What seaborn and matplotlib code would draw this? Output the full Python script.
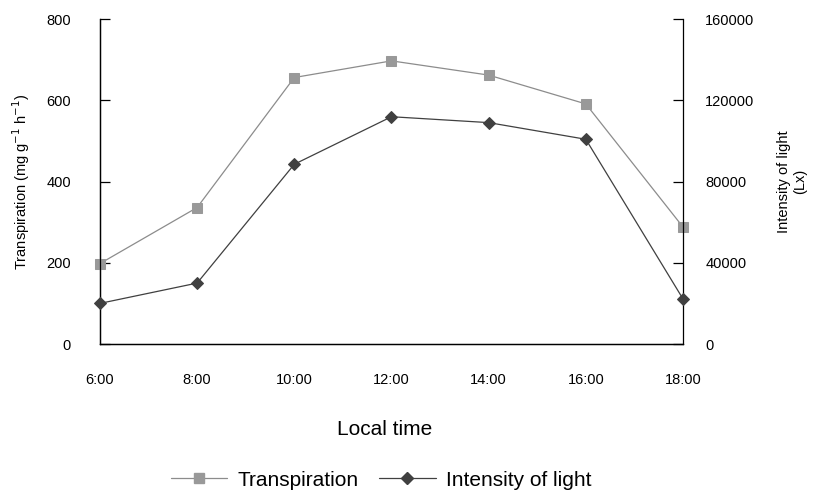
import matplotlib
matplotlib.use('Agg')
import matplotlib.pyplot as plt
import seaborn as sns
import pandas as pd
from matplotlib.lines import Line2D

# values
hours = [6, 8, 10, 12, 14, 16, 18]
time_labels = ['6:00', '8:00', '10:00', '12:00', '14:00', '16:00', '18:00']
transpiration = [198, 336, 656, 697, 662, 591, 288]
light = [20000, 30000, 88500, 111900, 109000, 100800, 22200]

df = pd.DataFrame({'hour': hours, 'transpiration': transpiration, 'light': light})

sns.set_theme(style='white')
plt.rcParams['font.family'] = ['Liberation Sans', 'DejaVu Sans']
plt.rcParams['text.color'] = 'black'
plt.rcParams['axes.labelcolor'] = 'black'
plt.rcParams['xtick.color'] = 'black'
plt.rcParams['ytick.color'] = 'black'

c_tr = '#999999'
c_li = '#404040'

fig, ax = plt.subplots(figsize=(8.16, 4.94), dpi=100)
fig.subplots_adjust(left=0.1225, right=0.837, top=0.9615, bottom=0.3036)

sns.lineplot(data=df, x='hour', y='transpiration', ax=ax, color='#8c8c8c', lw=0.9,
             marker='s', markersize=7, markerfacecolor=c_tr, markeredgecolor=c_tr,
             clip_on=False, zorder=5)
ax2 = ax.twinx()
sns.lineplot(data=df, x='hour', y='light', ax=ax2, color=c_li, lw=0.9,
             marker='D', markersize=6, markerfacecolor=c_li, markeredgecolor=c_li,
             clip_on=False, zorder=5)

ax.set_xlim(6, 18)
ax.set_ylim(0, 800)
ax2.set_ylim(0, 160000)
ax.set_xticks(hours)
ax.set_xticklabels(time_labels)
ax.set_yticks([0, 200, 400, 600, 800])
ax2.set_yticks([0, 40000, 80000, 120000, 160000])

for a in (ax, ax2):
    a.spines['top'].set_visible(False)
    for s in a.spines.values():
        s.set_color('black')
        s.set_linewidth(0.9)
    a.grid(False)
ax.spines['right'].set_visible(False)

ax.tick_params(axis='both', direction='in', length=7, width=0.9, color='black',
               labelsize=10.5, pad=21)
ax.tick_params(axis='y', pad=21)
ax2.tick_params(axis='y', direction='in', length=7, width=0.9, color='black',
                labelsize=10.5, pad=16, right=True)

ax.set_xlabel('Local time', fontsize=15, va='center')
ax.xaxis.set_label_coords(0.489, -0.262)
ax.set_ylabel('Transpiration (mg g$^{-1}$ h$^{-1}$)', fontsize=10.5, labelpad=10)
ax2.set_ylabel('Intensity of light\n(Lx)', fontsize=10.5, labelpad=16)

handles = [
    Line2D([], [], color='#8c8c8c', lw=0.9, marker='s', markersize=7,
           markerfacecolor=c_tr, markeredgecolor=c_tr),
    Line2D([], [], color=c_li, lw=0.9, marker='D', markersize=6,
           markerfacecolor=c_li, markeredgecolor=c_li),
]
fig.legend(handles, ['Transpiration', 'Intensity of light'], loc='center',
           bbox_to_anchor=(0.467, 0.028), ncol=2, frameon=False, fontsize=15,
           handlelength=2.7, columnspacing=1.0, handletextpad=0.5)

fig.savefig('out.png', dpi=100)
